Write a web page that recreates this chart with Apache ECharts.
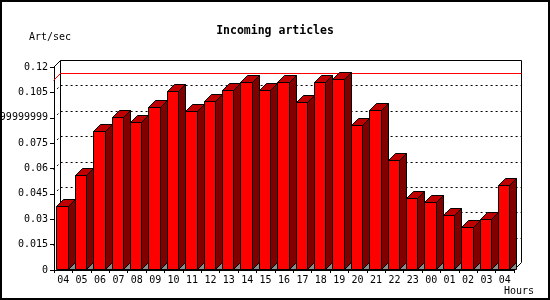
<!DOCTYPE html>
<html><head><meta charset="utf-8">
<script src="https://cdn.jsdelivr.net/npm/echarts@6/dist/echarts.min.js"></script>
<style>html,body{margin:0;padding:0;background:#fff}#c{width:550px;height:300px}</style>
</head><body><div id="c"></div>
<script>
const categories = ['04','05','06','07','08','09','10','11','12','13','14','15','16','17','18','19','20','21','22','23','00','01','02','03','04'];
const values = [0.0378,0.0559,0.0820,0.0907,0.0873,0.0966,0.1056,0.0942,0.1001,0.1066,0.1113,0.1066,0.1113,0.0995,0.1113,0.1127,0.0860,0.0948,0.0649,0.0423,0.0400,0.0323,0.0252,0.0299,0.0502];
const yTickValues = [0,0.015,0.03,0.045,0.06,0.075,0.09,0.105,0.12];
const yTickLabels = ['0','0.015','0.03','0.045','0.06','0.075','0.0899999999','0.105','0.12'];
const maxLine = [0.1126];

const DEPTH = 7;
const FONT = 'DejaVu Sans Mono';
const Y_MAX = yTickValues[yTickValues.length - 1];
const N = categories.length;

const px = v => Math.round(v) + 0.5;

function renderBar(params, api) {
  const i = api.value(0), v = api.value(1);
  const top = api.coord([i, v]);
  const bot = api.coord([i, 0]);
  const w = api.size([1, 0])[0];
  const fl = px(top[0] - w / 2 + w * 0.125);
  const fr = px(top[0] - w / 2 + w * 0.125 + w * 0.62);
  const yt = px(top[1]), yb = px(bot[1]) - 1, d = DEPTH;
  return {type: 'group', children: [
    {type: 'polygon', shape: {points: [[fr, yb], [fr + d, yb - d], [fr + d, yb]]}, style: {fill: '#8c8c8c', stroke: '#000', lineWidth: 1}},
    {type: 'polygon', shape: {points: [[fr, yt], [fr + d, yt - d], [fr + d, yb - d], [fr, yb]]}, style: {fill: '#800000', stroke: '#000', lineWidth: 1}},
    {type: 'polygon', shape: {points: [[fl, yt], [fl + d, yt - d], [fr + d, yt - d], [fr, yt]]}, style: {fill: '#c00000', stroke: '#000', lineWidth: 1}},
    {type: 'rect', shape: {x: fl, y: yt, width: fr - fl, height: yb - yt}, style: {fill: '#ff0000', stroke: '#000', lineWidth: 1}}
  ]};
}

function backLine(api, v, stroke, dash) {
  const a = api.coord([0, v]), b = api.coord([N, v]);
  const d = DEPTH;
  const ax = px(a[0]) - 1, ay = px(a[1]), bx = px(b[0]);
  return {type: 'polyline', shape: {points: [[ax, ay], [ax + d, ay - d], [bx + d, ay - d]]},
    style: {stroke: stroke, lineWidth: 1, lineDash: dash, fill: null}};
}

function renderGrid(params, api) {
  const v = api.value(0);
  return backLine(api, v, '#000', v >= Y_MAX ? null : [2, 3]);
}

function renderMax(params, api) {
  return backLine(api, api.value(0), '#ff0000', null);
}

function renderFrame(params, api) {
  const d = DEPTH;
  const tl = api.coord([0, Y_MAX]), bl = api.coord([0, 0]);
  const tr = api.coord([N, Y_MAX]), br = api.coord([N, 0]);
  const lx = px(tl[0]) - 1 + d, rx = px(tr[0]) + d;
  const ty = px(tl[1]) - d, by = px(bl[1]) - 1 - d;
  return {type: 'group', children: [
    {type: 'polyline', shape: {points: [[lx, by], [lx, ty]]}, style: {stroke: '#000', lineWidth: 1, fill: null}},
    {type: 'polyline', shape: {points: [[rx, ty], [rx, by], [rx - d, by + d]]}, style: {stroke: '#000', lineWidth: 1, fill: null}}
  ]};
}

const chart = echarts.init(document.getElementById('c'), null, {renderer: 'canvas'});
chart.setOption({
  animation: false,
  backgroundColor: '#ffffff',
  title: {
    text: 'Incoming articles', left: 'center', top: 20,
    textStyle: {fontFamily: FONT, fontWeight: 'bold', fontSize: 11.5, color: '#000'}
  },
  grid: {left: 54, top: 67, width: 460, height: 203, containLabel: false, outerBoundsMode: 'none'},
  xAxis: [
    {
      type: 'category', data: categories, boundaryGap: true,
      axisLine: {show: true, lineStyle: {color: '#000', width: 1}},
      axisTick: {show: true, length: 3, lineStyle: {color: '#000'}},
      axisLabel: {interval: 0, margin: 5, color: '#000', fontFamily: FONT, fontSize: 10, hideOverlap: false},
      splitLine: {show: false}
    },
    {type: 'value', min: 0, max: N, show: false}
  ],
  yAxis: {
    type: 'value', min: 0, max: Y_MAX, interval: 0.015,
    axisLine: {show: true, lineStyle: {color: '#000', width: 1}},
    axisTick: {show: true, length: 4, lineStyle: {color: '#000'}},
    axisLabel: {
      margin: 6, color: '#000', fontFamily: FONT, fontSize: 10, hideOverlap: false,
      formatter: v => yTickLabels[Math.round(v / 0.015)]
    },
    splitLine: {show: false}
  },
  series: [
    {type: 'custom', xAxisIndex: 1, z: 2, renderItem: renderFrame, data: [[0]], silent: true},
    {type: 'custom', xAxisIndex: 1, z: 2, renderItem: renderGrid, data: yTickValues.slice(1).map(v => [v]), silent: true},
    {type: 'custom', xAxisIndex: 1, z: 2, renderItem: renderMax, data: maxLine.map(v => [v]), silent: true},
    {type: 'custom', xAxisIndex: 0, z: 3, renderItem: renderBar, data: values.map((v, i) => [i, v])}
  ],
  graphic: [
    {type: 'text', left: 29, top: 32, style: {text: 'Art/sec', font: '10px "DejaVu Sans Mono"', fill: '#000'}},
    {type: 'text', left: 504, top: 286, style: {text: 'Hours', font: '10px "DejaVu Sans Mono"', fill: '#000'}},
    {type: 'rect', shape: {x: 1, y: 1, width: 548, height: 298}, style: {fill: null, stroke: '#000', lineWidth: 2}, z: 10}
  ]
});
</script>
</body></html>
